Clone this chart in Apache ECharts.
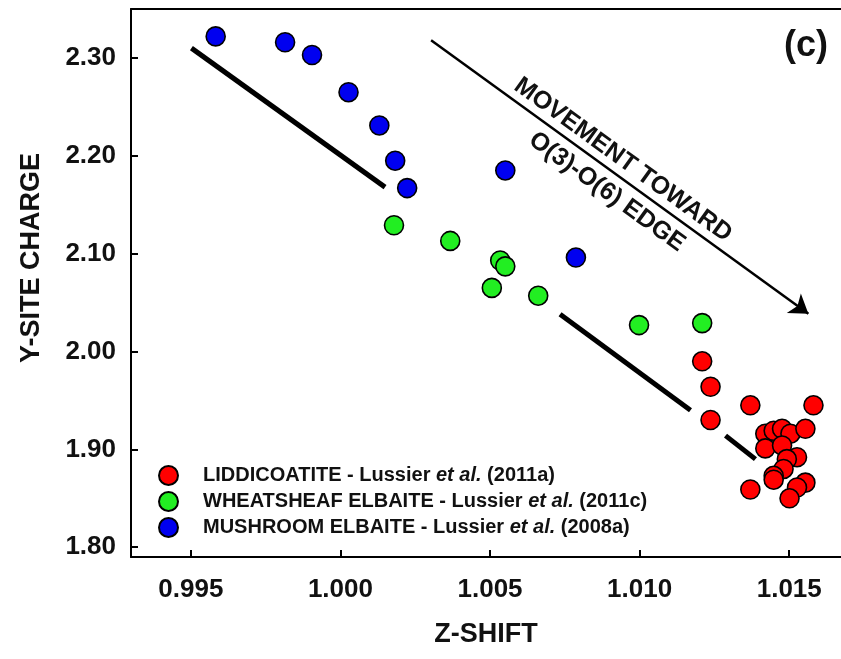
<!DOCTYPE html>
<html><head><meta charset="utf-8">
<script src="https://cdn.jsdelivr.net/npm/echarts@6/dist/echarts.min.js"></script>
<style>html,body{margin:0;padding:0;background:#fff}#c{width:841px;height:659px}</style>
</head><body><div id="c"></div>
<script>
// Tick values
const xTicks = [0.995, 1.000, 1.005, 1.010, 1.015];
const yTicks = [1.80, 1.90, 2.00, 2.10, 2.20, 2.30];

// Series names
const nameRed = 'LIDDICOATITE - Lussier et al. (2011a)';
const nameGreen = 'WHEATSHEAF ELBAITE - Lussier et al. (2011c)';
const nameBlue = 'MUSHROOM ELBAITE - Lussier et al. (2008a)';

// [Z-shift, Y-site charge]
const mushroom = [
  [0.99583, 2.322], [0.99815, 2.316], [0.99905, 2.303], [1.00027, 2.265],
  [1.00130, 2.231], [1.00183, 2.195], [1.00223, 2.167], [1.00551, 2.185],
  [1.00787, 2.096]
];
const wheatsheaf = [
  [1.00179, 2.129], [1.00367, 2.113], [1.00534, 2.093], [1.00551, 2.087],
  [1.00506, 2.065], [1.00661, 2.057], [1.00998, 2.027], [1.01209, 2.029]
];
const liddicoatite = [
  [1.01209, 1.990], [1.01237, 1.964], [1.01237, 1.930], [1.01370, 1.945], [1.01581, 1.945],
  [1.01420, 1.916], [1.01448, 1.919], [1.01476, 1.921], [1.01504, 1.916], [1.01554, 1.921],
  [1.01420, 1.901], [1.01476, 1.904], [1.01526, 1.892], [1.01492, 1.890], [1.01481, 1.880],
  [1.01448, 1.873], [1.01448, 1.869], [1.01554, 1.866], [1.01526, 1.861], [1.01501, 1.850],
  [1.01370, 1.859]
];

// Annotation segments (data coordinates)
const trend1 = [[0.99502, 2.310], [1.00149, 2.168]];
const trend2 = [[1.00734, 2.038], [1.01170, 1.940]];
const trend3 = [[1.01287, 1.914], [1.01387, 1.890]];
const arrowSeg = [[1.00303, 2.318], [1.01564, 2.0385]];

const FONT = '"Liberation Sans", Arial, Helvetica, sans-serif';
const chart = echarts.init(document.getElementById('c'), null, {renderer: 'canvas'});

function legendFmt(name) {
  const parts = name.split('et al.');
  return '{b|' + parts[0] + '}{i|et al.}{b|' + parts[1] + '}';
}

function segSeries(seg, width) {
  return {
    type: 'line', data: seg, symbol: 'none', silent: true, z: 1,
    lineStyle: {color: '#000', width: width}, animation: false
  };
}

const dotStyle = (c) => ({color: c, opacity: 1, borderColor: '#000', borderWidth: 1.6});

chart.setOption({
  animation: false,
  backgroundColor: '#fff',
  grid: {left: 131, right: 0, top: 9, bottom: 102},
  xAxis: [{
    type: 'value', min: 0.993, max: 1.01673, position: 'bottom',
    name: 'Z-SHIFT', nameLocation: 'middle', nameGap: 64,
    nameTextStyle: {fontSize: 27, fontWeight: 'bold', color: '#111', fontFamily: FONT},
    axisLine: {show: true, onZero: false, lineStyle: {color: '#000', width: 2}},
    axisTick: {show: true, inside: true, length: 7, customValues: xTicks, lineStyle: {color: '#000', width: 2}},
    axisLabel: {customValues: xTicks, formatter: v => v.toFixed(3), margin: 20,
      fontSize: 26, fontWeight: 'bold', color: '#111', fontFamily: FONT},
    splitLine: {show: false}
  }, {
    type: 'value', min: 0.993, max: 1.01673, position: 'top',
    axisLine: {show: true, onZero: false, lineStyle: {color: '#000', width: 2}},
    axisTick: {show: false}, axisLabel: {show: false}, splitLine: {show: false}
  }],
  yAxis: [{
    type: 'value', min: 1.79, max: 2.35,
    axisLine: {show: true, onZero: false, lineStyle: {color: '#000', width: 2}},
    axisTick: {show: true, inside: true, length: 7, customValues: yTicks, lineStyle: {color: '#000', width: 2}},
    axisLabel: {customValues: yTicks, formatter: v => v.toFixed(2), margin: 15,
      fontSize: 26, fontWeight: 'bold', color: '#111', fontFamily: FONT},
    splitLine: {show: false}
  }],
  legend: {
    data: [nameRed, nameGreen, nameBlue],
    orient: 'vertical', left: 153, top: 460,
    itemWidth: 19, itemHeight: 19, itemGap: 5, icon: 'circle',
    formatter: legendFmt,
    textStyle: {
      fontSize: 20, fontWeight: 'bold', color: '#111', fontFamily: FONT, padding: [0, 0, 0, 20],
      lineHeight: 20,
      rich: {
        b: {fontSize: 20, lineHeight: 20, fontWeight: 'bold', color: '#111', fontFamily: FONT},
        i: {fontSize: 20, lineHeight: 20, fontWeight: 'bold', fontStyle: 'italic', color: '#111', fontFamily: FONT}
      }
    },
    selectedMode: false
  },
  series: [
    segSeries(trend1, 5),
    segSeries(trend2, 5),
    segSeries(trend3, 5),
    {
      type: 'line', data: [], silent: true,
      markLine: {
        silent: true, animation: false,
        symbol: ['none', 'arrow'], symbolSize: 18,
        lineStyle: {color: '#000', width: 2.5, type: 'solid'},
        itemStyle: {color: '#000'},
        label: {show: false},
        data: [[{coord: arrowSeg[0]}, {coord: arrowSeg[1]}]]
      }
    },
    {name: nameBlue, type: 'scatter', data: mushroom, symbolSize: 19, itemStyle: dotStyle('#0000f0'), z: 3},
    {name: nameGreen, type: 'scatter', data: wheatsheaf, symbolSize: 19, itemStyle: dotStyle('#22ee22'), z: 3},
    {name: nameRed, type: 'scatter', data: liddicoatite, symbolSize: 19, itemStyle: dotStyle('#ff0000'), z: 3}
  ],
  graphic: [
    {type: 'text', x: 32, y: 258, rotation: Math.PI / 2, z: 10,
      style: {text: 'Y-SITE CHARGE', font: 'bold 27px ' + FONT, fill: '#111',
        textAlign: 'center', textVerticalAlign: 'middle', align: 'center', verticalAlign: 'middle'}},
    {type: 'text', x: 806, y: 46, z: 10,
      style: {text: '(c)', font: 'bold 36px ' + FONT, fill: '#111',
        textAlign: 'center', textVerticalAlign: 'middle', align: 'center', verticalAlign: 'middle'}},
    {type: 'text', x: 623, y: 160, rotation: -0.6266, z: 10,
      style: {text: 'MOVEMENT TOWARD', font: 'bold 25px ' + FONT, fill: '#111',
        textAlign: 'center', textVerticalAlign: 'middle', align: 'center', verticalAlign: 'middle'}},
    {type: 'text', x: 607, y: 192, rotation: -0.6266, z: 10,
      style: {text: 'O(3)-O(6) EDGE', font: 'bold 25px ' + FONT, fill: '#111',
        textAlign: 'center', textVerticalAlign: 'middle', align: 'center', verticalAlign: 'middle'}}
  ]
});
</script>
</body></html>
